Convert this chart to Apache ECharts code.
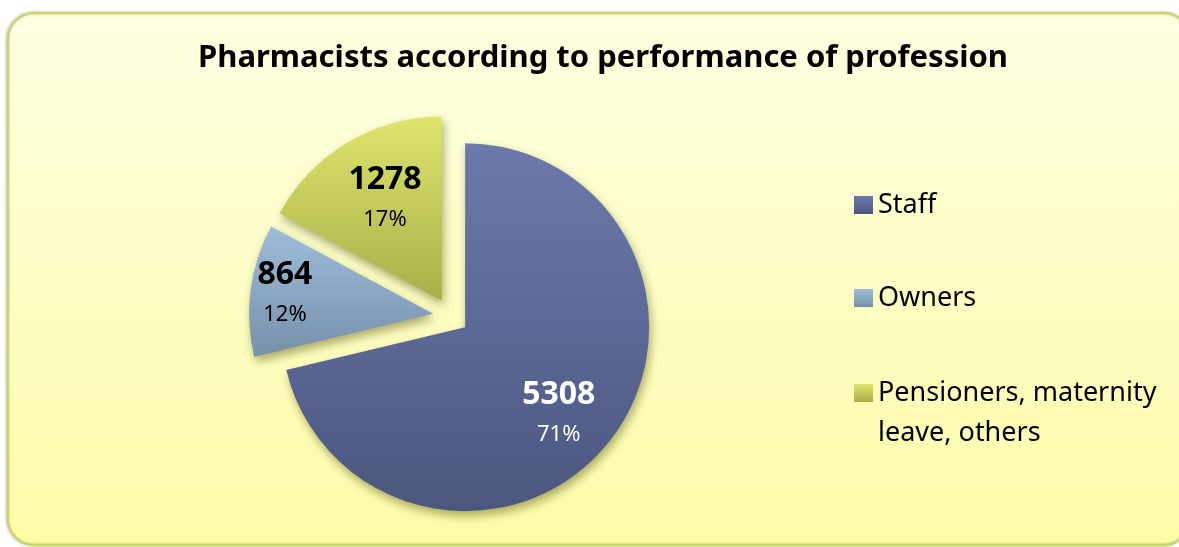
<!DOCTYPE html>
<html>
<head>
<meta charset="utf-8">
<script src="https://cdn.jsdelivr.net/npm/echarts@6/dist/echarts.min.js"></script>
<style>
html, body { margin: 0; padding: 0; background: #ffffff; }
#main { width: 1179px; height: 547px; }
</style>
</head>
<body>
<div id="main"></div>
<script>
// pharmacists by performance of profession
var categories = ['Staff', 'Owners', 'Pensioners, maternity leave, others'];
var counts = [5308, 864, 1278];

// slice fills, light at top to dark at bottom
var topColors = ['#6c79ab', '#9ebdda', '#dfe46d'];
var bottomColors = ['#4c577f', '#7790aa', '#a7af48'];
var labelColors = ['#ffffff', '#000000', '#000000'];
// nudge of the labels from the default inside place
var labelShift = [[19, 28], [-54, -8], [-8, -20]];

var FONT = '"Noto Sans", sans-serif';

function grad(i) {
    return new echarts.graphic.LinearGradient(0, 0, 0, 1, [
        {offset: 0, color: topColors[i]},
        {offset: 1, color: bottomColors[i]}
    ]);
}

var pieData = [];
for (var i = 0; i < categories.length; i++) {
    pieData.push({
        name: categories[i],
        value: counts[i],
        selected: true,
        itemStyle: {color: grad(i)},
        label: {color: labelColors[i]}
    });
}

// the third legend gets an empty first line so its box sits on the first text line
var legendTop = [190, 283, 333];
var legends = [];
for (var k = 0; k < categories.length; k++) {
    legends.push({
        data: [categories[k]],
        left: 854,
        top: legendTop[k],
        padding: 0,
        icon: 'rect',
        itemWidth: 19,
        itemHeight: 18,
        selectedMode: false,
        formatter: function (name) {
            if (name.indexOf('maternity') < 0) return name;
            return '\u00a0\n' + name.replace('maternity ', 'maternity\n');
        },
        textStyle: {
            fontFamily: FONT,
            fontSize: 27,
            color: '#000',
            lineHeight: k == 2 ? 40 : 30
        }
    });
}

var myChart = echarts.init(document.getElementById('main'));

var option = {
    animation: false,
    graphic: [{
        type: 'rect',
        z: -10,
        shape: {x: 8, y: 13, width: 1182, height: 532, r: 26},
        style: {
            fill: new echarts.graphic.LinearGradient(0, 0, 0, 1, [
                {offset: 0, color: '#fefee2'},
                {offset: 1, color: '#fdfca8'}
            ]),
            stroke: '#ccd56c',
            lineWidth: 2.5,
            shadowColor: 'rgba(0,0,0,0.18)',
            shadowBlur: 3,
            shadowOffsetX: -1
        }
    }],
    title: {
        text: 'Pharmacists according to performance of profession',
        left: 598,
        top: 38,
        textAlign: 'center',
        textStyle: {
            fontFamily: FONT,
            fontSize: 31,
            fontWeight: 'bold',
            color: '#000'
        }
    },
    legend: legends,
    series: [{
        type: 'pie',
        center: [451, 316],
        radius: 184,
        startAngle: 90,
        clockwise: true,
        selectedMode: 'multiple',
        selectedOffset: 18,
        percentPrecision: 0,
        avoidLabelOverlap: false,
        emphasis: {scale: false},
        itemStyle: {
            shadowColor: 'rgba(70,70,0,0.45)',
            shadowBlur: 10,
            shadowOffsetX: 2,
            shadowOffsetY: 5
        },
        label: {
            position: 'inside',
            fontFamily: FONT,
            formatter: '{v|{c}}\n{p|{d}%}',
            rich: {
                v: {fontFamily: FONT, fontSize: 32, fontWeight: 'bold', lineHeight: 42},
                p: {fontFamily: FONT, fontSize: 22, lineHeight: 38}
            }
        },
        labelLine: {show: false},
        labelLayout: function (params) {
            var s = labelShift[params.dataIndex];
            return {dx: s[0], dy: s[1]};
        },
        data: pieData
    }]
};

myChart.setOption(option);
</script>
</body>
</html>
